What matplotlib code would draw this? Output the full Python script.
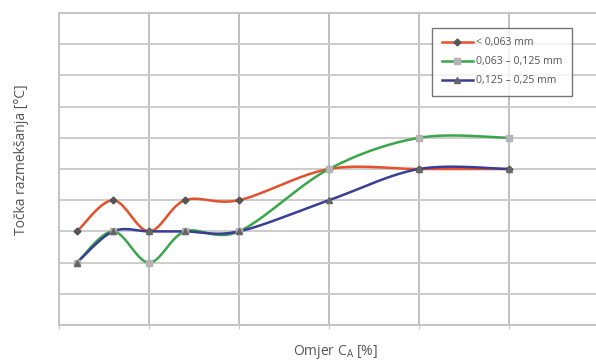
import matplotlib.pyplot as plt
import numpy as np

# data (x in units of the vertical grid, y in grid steps)
x_vals = [0.2, 0.6, 1.0, 1.4, 2.0, 3.0, 4.0, 5.0]
red_vals = [3, 4, 3, 4, 4, 5, 5, 5]
green_vals = [2, 3, 2, 3, 3, 5, 6, 6]
blue_vals = [2, 3, 3, 3, 3, 4, 5, 5]
labels = ['< 0,063 mm', '0,063 – 0,125 mm', '0,125 – 0,25 mm']


def smooth(x, y, n=30):
    """Catmull-Rom style curve through the points (only for drawing the line)."""
    x = np.asarray(x, float)
    y = np.asarray(y, float)
    px = np.concatenate([[x[0]], x, [x[-1]]])
    py = np.concatenate([[y[0]], y, [y[-1]]])
    xs, ys = [], []
    t = np.linspace(0, 1, n)
    for i in range(1, len(px) - 2):
        p0, p1, p2, p3 = [np.array([px[j], py[j]]) for j in (i - 1, i, i + 1, i + 2)]
        c1 = p1 + (p2 - p0) / 6
        c2 = p2 - (p3 - p1) / 6
        b = ((1 - t) ** 3)[:, None] * p1 + (3 * (1 - t) ** 2 * t)[:, None] * c1 \
            + (3 * (1 - t) * t ** 2)[:, None] * c2 + (t ** 3)[:, None] * p2
        xs.extend(b[:, 0])
        ys.extend(b[:, 1])
    return xs, ys


fig = plt.figure(figsize=(5.96, 3.63), dpi=100)
ax = fig.add_axes([59 / 596, 38 / 363, 540 / 596, 312 / 363])

series = [
    (red_vals, '#e4512c', 'D', '#555555', 3.5),
    (green_vals, '#3aa64a', 's', '#b4b4b4', 4.5),
    (blue_vals, '#383d96', '^', '#666666', 4.5),
]
handles = []
for (vals, col, mk, mcol, ms), lab in zip(series, labels):
    sx, sy = smooth(x_vals, vals)
    ax.plot(sx, sy, color=col, lw=1.8, zorder=3)
    ax.plot(x_vals, vals, ls='none', marker=mk, ms=ms, color=mcol, zorder=4)
    h, = ax.plot([], [], color=col, lw=1.8, marker=mk, ms=ms,
                 markerfacecolor=mcol, markeredgecolor=mcol)
    handles.append(h)

ax.set_xlim(0, 6)
ax.set_ylim(0, 10)
ax.set_xticks(np.arange(0, 7, 1))
ax.set_yticks(np.arange(0, 11, 1))
ax.tick_params(axis='x', length=3, color='#c8c8c8', labelbottom=False)
ax.tick_params(axis='y', length=0, labelleft=False)
ax.grid(True, axis='y', color='#cccccc', lw=1.4)
ax.grid(True, axis='x', color='#bbbbbb', lw=1.3)
for s in ax.spines.values():
    s.set_color('#c4c4c4')
    s.set_linewidth(1.4)
ax.spines['right'].set_visible(False)

ax.set_axisbelow(True)

fig.text(22 / 596, 1 - 160 / 363, 'Točka razmekšanja [°C]', rotation=90,
         ha='center', va='center', fontsize=10, color='#555555', family='Open Sans')
fig.text(335 / 596, 1 - 352 / 363, 'Omjer C$_\\mathregular{A}$ [%]',
         ha='center', va='center', fontsize=10, color='#555555', family='Open Sans')

leg = ax.legend(handles, labels, loc='upper left',
                bbox_to_anchor=((432 - 59) / 540, (325 - 28) / 312),
                fontsize=7.6, frameon=True, fancybox=False, handlelength=3.0,
                handletextpad=0.3, borderpad=0.9, labelspacing=0.75,
                borderaxespad=0)
leg.get_frame().set_edgecolor('#555555')
leg.get_frame().set_linewidth(1.0)
for t in leg.get_texts():
    t.set_color('#555555')
    t.set_family('Open Sans')

fig.savefig('out.png', dpi=100)
